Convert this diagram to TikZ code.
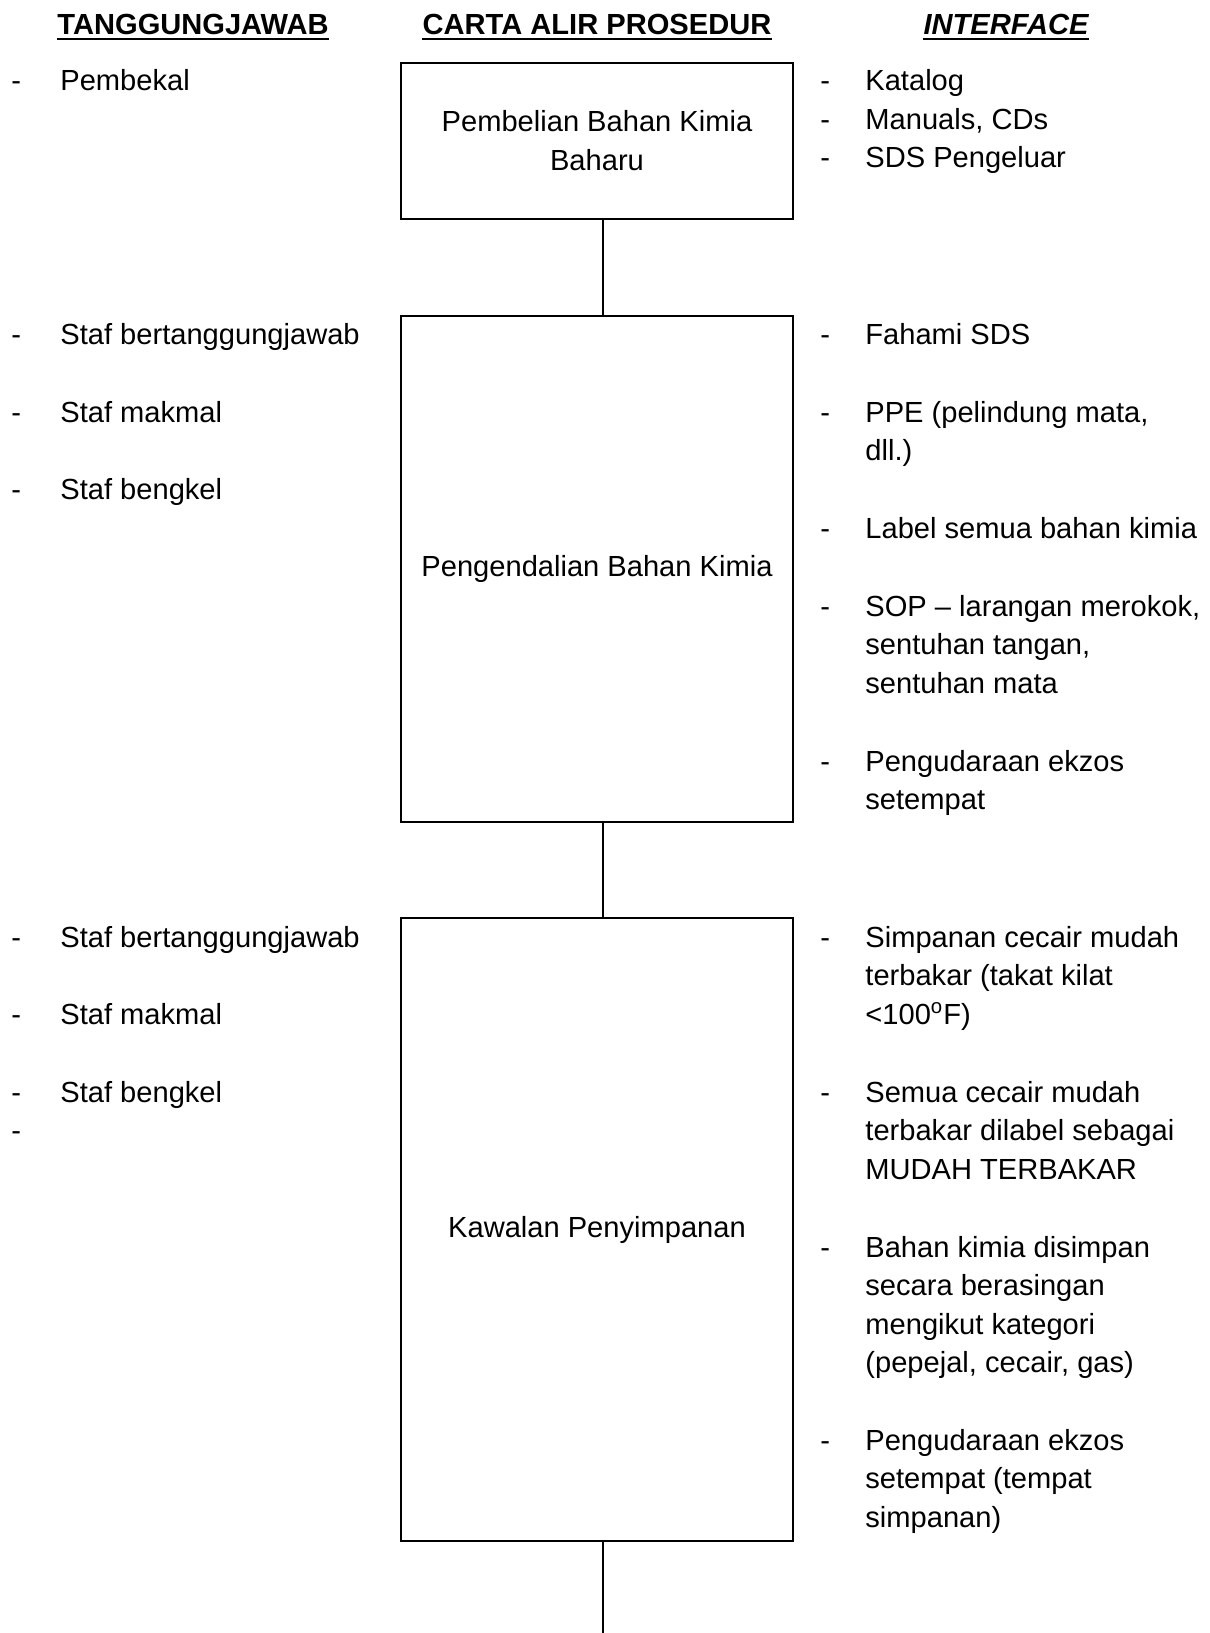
\documentclass[tikz,border=0pt]{standalone}
\usepackage{fontspec}
\setmainfont{Liberation Sans}
\newcommand{\itemlines}[1]{\begin{tabular}[t]{@{}l@{}}#1\end{tabular}}
\begin{document}
\begin{tikzpicture}[x=0.5pt,y=-0.5pt,
	every node/.style={inner sep=0pt,font=\fontsize{14.55}{19.3}\selectfont},
	hdr/.style={anchor=base,font=\fontsize{14.55}{19.3}\selectfont\bfseries},
	uline/.style={line width=1.1pt},
	stepbox/.style={draw,line width=1pt,minimum width=196pt,align=center},
	dashmark/.style={anchor=base west},
	item/.style={anchor=base west},
	link/.style={line width=1pt}]
	\useasboundingbox (0,0) rectangle (1210,1633);
	% headings
	\node[hdr] (hdresp) at (193,34) {TANGGUNGJAWAB};
	\node[hdr] (hdflow) at (597,34) {CARTA ALIR PROSEDUR};
	\node[hdr] (hdintf) at (1006,34) {\itshape INTERFACE};
	\foreach \h in {hdresp,hdflow,hdintf}
		\draw[uline] ([yshift=-2.3pt]\h.south west) -- ([yshift=-2.3pt]\h.south east);
	% flow boxes
	\node[stepbox,minimum height=78pt] (buy) at (597,140.6) {Pembelian Bahan Kimia\\Baharu};
	\node[stepbox,minimum height=253pt] (handle) at (597,568.5) {Pengendalian Bahan Kimia};
	\node[stepbox,minimum height=311.5pt] (store) at (597,1229.7) {Kawalan Penyimpanan};
	\coordinate (axis) at (603,0);
	\coordinate (tail) at (603,1633);
	\draw[link] (buy.south -| axis) -- (handle.north -| axis);
	\draw[link] (handle.south -| axis) -- (store.north -| axis);
	\draw[link] (store.south -| axis) -- (tail);
	% tanggungjawab
	\node[dashmark] (rd0) at (11,90) {-};
	\node[item] (rt0) at (60,90) {Pembekal};
	\foreach \y/\t [count=\i] in {344/Staf bertanggungjawab,422/Staf makmal,499/Staf bengkel}{
		\node[dashmark] (rda\i) at (11,\y) {-};
		\node[item] (rta\i) at (60,\y) {\t};
	}
	\foreach \y/\t [count=\i] in {947/Staf bertanggungjawab,1024/Staf makmal,1102/Staf bengkel}{
		\node[dashmark] (rdb\i) at (11,\y) {-};
		\node[item] (rtb\i) at (60,\y) {\t};
	}
	\node[dashmark] (rdb4) at (11,1140) {-};
	% interface
	\foreach \y/\t [count=\i] in {90/Katalog,129/{Manuals, CDs},167/SDS Pengeluar}{
		\node[dashmark] (ida\i) at (820,\y) {-};
		\node[item] (ita\i) at (865,\y) {\t};
	}
	\foreach \y/\t [count=\i] in {344/Fahami SDS,422/{PPE (pelindung mata,\\dll.)},538/Label semua bahan kimia,
		616/{SOP -- larangan merokok,\\sentuhan tangan,\\sentuhan mata},771/{Pengudaraan ekzos\\setempat}}{
		\node[dashmark] (idb\i) at (820,\y) {-};
		\node[item] (itb\i) at (865,\y) {\itemlines{\t}};
	}
	\foreach \y/\t [count=\i] in {947/{Simpanan cecair mudah\\terbakar (takat kilat\\<100\textsuperscript{o}F)},
		1102/{Semua cecair mudah\\terbakar dilabel sebagai\\MUDAH TERBAKAR},
		1257/{Bahan kimia disimpan\\secara berasingan\\mengikut kategori\\(pepejal, cecair, gas)},
		1450/{Pengudaraan ekzos\\setempat (tempat\\simpanan)}}{
		\node[dashmark] (idc\i) at (820,\y) {-};
		\node[item] (itc\i) at (865,\y) {\itemlines{\t}};
	}
\end{tikzpicture}
\end{document}
